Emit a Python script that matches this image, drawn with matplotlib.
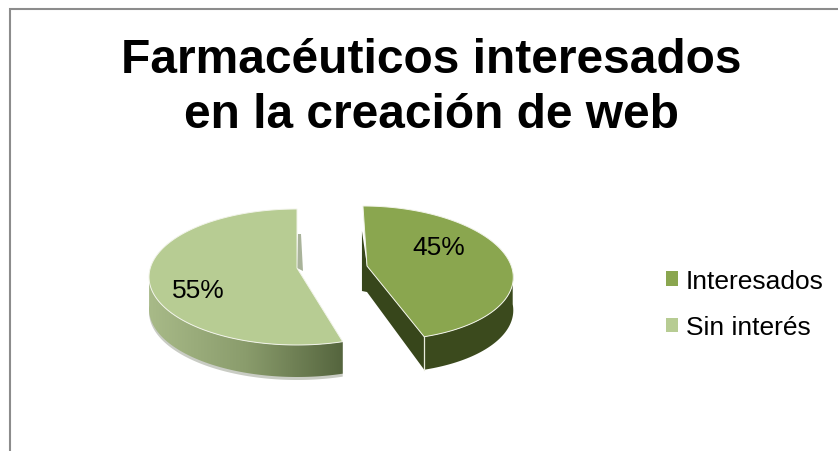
import matplotlib
matplotlib.use("Agg")

import matplotlib.pyplot as plt
import numpy as np
from matplotlib.colors import LinearSegmentedColormap
from matplotlib.patches import Patch, Polygon

plt.rcParams["font.family"] = ["Liberation Sans", "DejaVu Sans"]

title = "Farmacéuticos interesados\nen la creación de web"
categories = ["Interesados", "Sin interés"]
shares = [45, 55]
top_colors = ["#8AA64F", "#B7CC93"]

# ellipse of each exploded slice, in figure pixels
slice_layout = [
    {"cx": 372, "cy": 274, "rx": 141, "ry": 67, "shear": 0.135, "hub": (367, 267), "depth": 33, "label": (439, 248)},
    {"cx": 297, "cy": 278, "rx": 148, "ry": 68, "shear": 0.0, "hub": (297, 269), "depth": 32, "label": (198, 291)},
]


def rim(layout, theta):
    sin_t = np.sin(theta)
    x = layout["cx"] + layout["rx"] * np.cos(theta) - layout["shear"] * layout["ry"] * sin_t
    y = layout["cy"] - layout["ry"] * sin_t
    return np.column_stack([x, y])


def wall(points, depth):
    lower = points[::-1] + [0, depth]
    return np.vstack([points, lower])


fig = plt.figure(figsize=(8.38, 4.52), dpi=100)
ax = fig.add_axes([0, 0, 1, 1])
ax.set_xlim(0, 838)
ax.set_ylim(452, 0)
ax.axis("off")

# chart frame, open to the right and below
ax.plot([10, 10, 838], [452, 10, 10], color="#8C8C8C", lw=1.5, solid_joinstyle="miter")

ax.text(431, 88, title, ha="center", va="center", fontsize=34.5, fontweight="bold",
        linespacing=1.28, color="#000000")

# slice angles, clockwise from twelve o'clock
edges = np.radians(90 - 3.6 * np.cumsum([0] + shares))

# Interesados
layout = slice_layout[0]
theta = np.linspace(edges[0], edges[1], 120)
top = rim(layout, theta)
hub = np.array(layout["hub"], dtype=float)
apex = top[-1]
depth = layout["depth"]

outer = top[theta <= 0.05]
ax.add_patch(Polygon(wall(outer, depth), fc="#3B4A1D", ec="none", zorder=2))
cut = np.array([hub, apex, apex + [0, depth], hub + [0, depth - 7]])
ax.add_patch(Polygon(cut, fc="#37461B", ec="none", zorder=2))
back = np.array([top[0] + [-1, 25], hub, hub + [0, 26], top[0] + [-1, 85]])
ax.add_patch(Polygon(back, fc="#37461B", ec="none", zorder=1))
ax.plot(*np.array([apex, apex + [0, depth]]).T, color="#E8EBDD", lw=0.9, zorder=4)
ax.add_patch(Polygon(np.vstack([hub, top]), fc=top_colors[0], ec="#F2F4EA", lw=0.7, zorder=3))

# Sin interés
layout = slice_layout[1]
theta = np.linspace(edges[1], edges[2], 160)
top = rim(layout, theta)
hub = np.array(layout["hub"], dtype=float)
apex = top[0]
depth = layout["depth"]

outer = top[theta >= -np.pi - 0.05]
ax.add_patch(Polygon(wall(outer, depth + 2) + [0, 1], fc="#C9CCC4", ec="none", zorder=1))
side = Polygon(wall(outer, depth), fc="none", ec="none", zorder=2)
ax.add_patch(side)
fade = LinearSegmentedColormap.from_list("fade", ["#A8BA88", "#8A9C6C", "#55653E"])
shade = ax.imshow(np.linspace(0, 1, 256)[None, :], cmap=fade, aspect="auto", zorder=2,
                  extent=[outer[:, 0].min(), outer[:, 0].max(), 452, 0])
shade.set_clip_path(side)
ax.set_xlim(0, 838)
ax.set_ylim(452, 0)
back = np.array([hub, top[-1] + [1, 25], top[-1] + [4, 25], hub + [6, 3]])
ax.add_patch(Polygon(back, fc="#A9B39A", ec="none", zorder=1))
ax.add_patch(Polygon(np.vstack([hub, top]), fc=top_colors[1], ec="#F2F4EA", lw=0.7, zorder=3))

for layout, share in zip(slice_layout, shares):
    ax.text(*layout["label"], f"{share}%", ha="center", va="center", fontsize=19,
            color="#000000", zorder=5)

handles = [Patch(fc=color, ec="none", label=name) for color, name in zip(top_colors, categories)]
ax.legend(handles=handles, loc="center left", bbox_to_anchor=(655, 305), bbox_transform=ax.transData,
          frameon=False, fontsize=19, handlelength=0.46, handleheight=0.46, handletextpad=0.3,
          labelspacing=0.85, borderpad=0.4, borderaxespad=0, labelcolor="#000000")

fig.savefig("out.png", dpi=100)
